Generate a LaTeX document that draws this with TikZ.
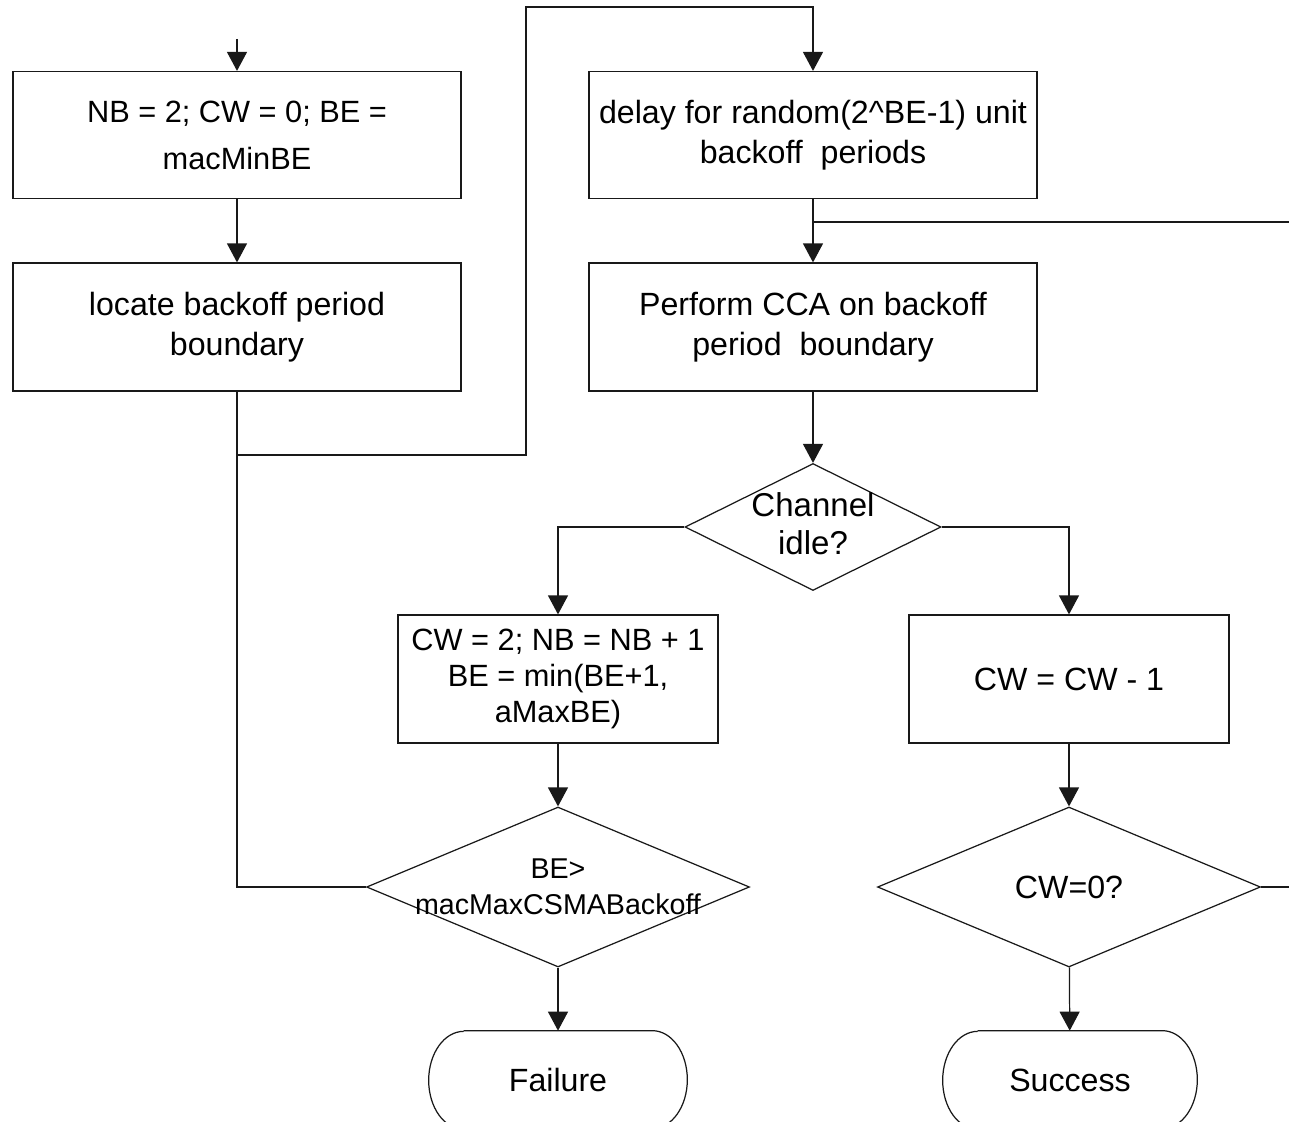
\documentclass[tikz,border=0pt]{standalone}
\usepackage{fontspec}
\setmainfont{Liberation Sans}
\usetikzlibrary{arrows.meta,shapes.geometric}
\begin{document}
\begin{tikzpicture}[x=0.02cm,y=-0.02cm,
  every node/.style={font=\fontsize{18.3}{22.7}\selectfont},
  line/.style={line width=0.7pt, draw=black!90},
  arr/.style={line, -{Triangle[length=0.38cm,width=0.4cm]}},
  box/.style={line, rectangle, align=center, inner sep=0pt,
    minimum width=8.96cm, minimum height=2.54cm},
  smallbox/.style={box, minimum width=6.4cm, minimum height=2.56cm},
  decision/.style={line, diamond, inner sep=0pt},
  terminal/.style={rectangle, inner sep=0pt, minimum height=1.96cm}
]
% canvas
\clip (0,0) rectangle (1289,1122);
\fill[white] (0,0) rectangle (1289,1122);

% process boxes
\node[box, font=\fontsize{17.5}{22.7}\selectfont] (b1) at (237,135) {NB = 2; CW = 0; BE =\\[4pt]macMinBE};
\node[box, minimum height=2.56cm] (b2) at (237,327) {locate backoff period\\boundary};
\node[box] (b3) at (813,135) {delay for random(2\textasciicircum BE-1) unit\\backoff\ \ periods};
\node[box, minimum height=2.56cm] (b4) at (813,327) {Perform CCA on backoff\\period\ \ boundary};
\node[smallbox, font=\fontsize{17.5}{20.5}\selectfont] (b5) at (558,679) {CW = 2; NB = NB + 1\\BE = min(BE+1,\\aMaxBE)};
\node[smallbox] (b6) at (1069,679) {CW = CW - 1};

% decisions
\node[decision, minimum width=5.12cm, minimum height=2.54cm] (d1) at (813,527) {};
\node[align=center, font=\fontsize{18.8}{21.5}\selectfont] (d1t) at (813,524) {Channel\\idle?};
\node[decision, minimum width=7.66cm, minimum height=3.2cm] (d2) at (558,887) {};
\node[align=center, font=\fontsize{16.3}{20.5}\selectfont] (d2t) at (558,887) {BE>\\macMaxCSMABackoff};
\node[decision, minimum width=7.66cm, minimum height=3.2cm] (d3) at (1069,887) {};
\node (d3t) at (1069,887) {CW=0?};

% terminals (outline drawn below)
\node[terminal, minimum width=5.16cm] (fail) at (558,1080) {Failure};
\node[terminal, minimum width=5.08cm] (succ) at (1070,1080) {Success};
\foreach \t in {fail,succ}{
  \draw[line] ([xshift=0.7cm]\t.north west) -- ([xshift=-0.7cm]\t.north east)
    arc[start angle=90, end angle=-90, x radius=0.7cm, y radius=0.98cm]
    -- ([xshift=0.7cm]\t.south west)
    arc[start angle=270, end angle=90, x radius=0.7cm, y radius=0.98cm];
}

% loose ends
\coordinate (start) at (237,39);
\coordinate (j1) at (237,455);
\coordinate (up) at (526,455);
\coordinate (top) at (526,7);
\coordinate (r1) at (1289,222);
\coordinate (r2) at (1289,887);

% connectors
\draw[arr] (start) -- (b1);
\draw[arr] (b1) -- (b2);
\draw[line] (b2.south) |- (d2.west);
\draw[arr] (j1) -- (up) -- (top) -| (b3.north);
\draw[arr] (b3) -- (b4);
\draw[line] (r1) -- (b3.south |- r1);
\draw[arr] (b4) -- (d1);
\draw[arr] (d1.west) -| (b5.north);
\draw[arr] (d1.east) -| (b6.north);
\draw[arr] (b5) -- (d2);
\draw[arr] (b6) -- (d3);
\draw[arr] (d2) -- (fail);
\draw[arr] (d3) -- (succ);
\draw[line] (d3.east) -- (r2);
\end{tikzpicture}
\end{document}
